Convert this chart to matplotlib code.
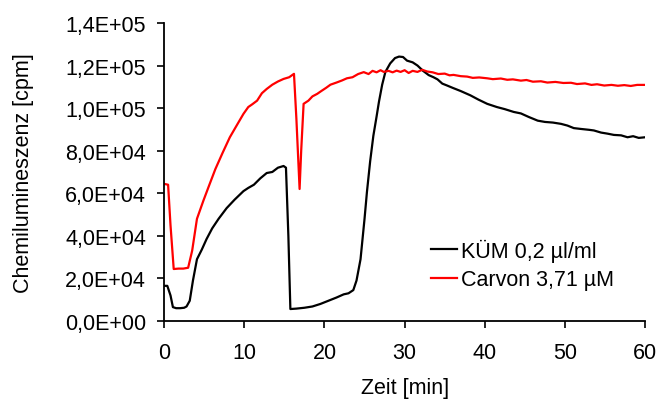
import matplotlib

matplotlib.use("Agg")
import matplotlib.pyplot as plt
from matplotlib.ticker import FuncFormatter

plt.rcParams["font.family"] = ["Liberation Sans", "DejaVu Sans"]

# KÜM 0,2 µl/ml (black)
kuem_t = [0, 0.4, 0.8, 1.1, 1.5, 2.0, 2.5, 2.8, 3.2, 3.6, 4.1, 4.7, 5.3, 6.0,
          6.8, 7.8, 8.8, 9.9, 10.5, 11.2, 12.0, 12.8, 13.5, 14.2, 14.9, 15.2,
          15.5, 15.75, 16.5, 17.5, 18.5, 19.5, 20.5, 21.5, 22.4, 23.0, 23.6,
          24.0, 24.5, 25.0, 25.3, 25.7, 26.1, 26.5, 26.8, 27.2, 27.6, 28.2,
          28.8, 29.3, 29.8, 30.3, 31.0, 31.6, 32.3, 33.0, 33.6, 34.1, 34.7,
          35.3, 36.0, 37.0, 38.2, 39.2, 40.3, 41.5, 42.5, 43.6, 44.5, 45.5,
          46.6, 47.5, 48.5, 49.5, 50.3, 51.1, 52.0, 53.0, 53.6, 54.5, 55.3,
          56.1, 57.0, 57.8, 58.5, 59.2, 60]
kuem_v = [16500, 16500, 12000, 6500, 6000, 6000, 6200, 6800, 9500, 19000,
          29000, 33500, 38500, 43500, 48000, 53000, 57000, 61000, 62500, 64000,
          67000, 69500, 70000, 72000, 72800, 72000, 40000, 5600, 5800, 6200,
          6800, 8000, 9500, 11000, 12500, 13000, 14500, 19000, 29000, 48000,
          60600, 75000, 87000, 96000, 103000, 111000, 117000, 121000, 123500,
          124200, 124000, 122300, 121500, 120000, 117500, 115500, 114500,
          113500, 111500, 110600, 109500, 108000, 106000, 104000, 102000,
          100500, 99500, 98200, 97500, 95800, 94100, 93500, 93200, 92600,
          91800, 90600, 90200, 89800, 89500, 88500, 88000, 87400, 87200, 86300,
          86800, 86000, 86300]

# Carvon 3,71 µM (red)
carvon_t = [0, 0.5, 0.8, 1.2, 1.8, 2.4, 3.0, 3.5, 4.1, 4.9, 5.6, 6.4, 7.3,
            8.2, 9.0, 9.9, 10.5, 11.0, 11.6, 12.2, 12.8, 13.5, 14.2, 14.9,
            15.6, 16.2, 16.5, 16.9, 17.1, 17.4, 18.0, 18.5, 19.1, 19.6, 20.2,
            20.75, 21.5, 22.2, 22.8, 23.5, 24.2, 24.9, 25.5, 26.0, 26.5, 27.0,
            27.4, 28.0, 28.5, 29.0, 29.5, 30.0, 30.5, 31.0, 31.6, 32.2, 32.8,
            33.5, 34.2, 35.0, 35.6, 36.1, 37.0, 37.8, 38.5, 39.3, 40.3, 41.0,
            42.0, 42.8, 43.5, 44.5, 45.2, 46.0, 47.0, 47.8, 48.8, 49.8, 50.75,
            51.5, 52.5, 53.3, 54.0, 54.9, 55.8, 56.6, 57.4, 58.2, 59.0, 60]
carvon_v = [64400, 64000, 45000, 24400, 24600, 24600, 25000, 33000, 48000,
            56500, 63500, 71400, 79000, 86300, 91500, 97300, 100500, 101800,
            103500, 107000, 109000, 111000, 112500, 113700, 114500, 116100,
            95000, 62000, 80000, 102000, 103500, 105500, 106700, 108000,
            109500, 111000, 112000, 113000, 114000, 114500, 116000, 116900,
            116000, 117500, 116800, 117800, 117000, 117500, 116800, 117600,
            117000, 117800, 116500, 117500, 117000, 118000, 117200, 116800,
            116000, 116200, 115400, 115600, 115000, 114800, 114200, 114400,
            114000, 113600, 113900, 113300, 113500, 112900, 113200, 112400,
            112600, 112000, 112300, 111800, 111900, 111300, 111600, 110900,
            111200, 110600, 110900, 110500, 110800, 110400, 110900, 110900]

labels = ["KÜM 0,2 µl/ml", "Carvon 3,71 µM"]


def sci_comma(value, _pos):
    text = f"{value:.1E}"
    return text.replace(".", ",")


fig = plt.figure(figsize=(6.59, 4.06), dpi=100)
ax = fig.add_axes([0.249, 0.207, 0.73, 0.734])

ax.plot(kuem_t, kuem_v, color="black", linewidth=1.6, label=labels[0])
ax.plot(carvon_t, carvon_v, color="#ff0000", linewidth=1.6, label=labels[1])

ax.set_xlim(0, 60)
ax.set_ylim(0, 140000)
ax.set_xticks(range(0, 61, 10))
ax.set_yticks(range(0, 140001, 20000))
ax.yaxis.set_major_formatter(FuncFormatter(sci_comma))
ax.tick_params(axis="both", labelsize=15.5, direction="out", length=5,
               width=1.2, colors="black")
ax.tick_params(axis="x", pad=10)
ax.tick_params(axis="y", pad=8)

for side in ("top", "right"):
    ax.spines[side].set_visible(False)
for side in ("left", "bottom"):
    ax.spines[side].set_linewidth(1.3)

ax.set_xlabel("Zeit [min]", fontsize=15.5, labelpad=10)
ax.set_ylabel("Chemilumineszenz [cpm]", fontsize=15.5, labelpad=22)

ax.legend(loc="center left", bbox_to_anchor=(0.555, 0.19), frameon=False,
          fontsize=15.5, handlelength=1.2, handletextpad=0.2,
          borderpad=0, borderaxespad=0, labelspacing=0.35)

fig.savefig("out.png", dpi=100, facecolor="white")
